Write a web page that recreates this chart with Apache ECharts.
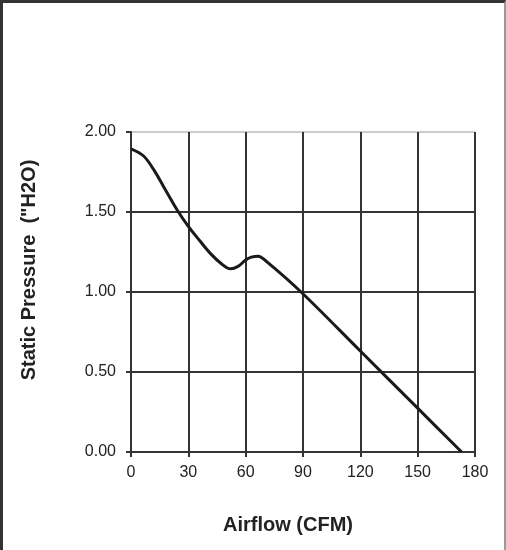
<!DOCTYPE html>
<html>
<head>
<meta charset="utf-8">
<script src="https://cdn.jsdelivr.net/npm/echarts@6/dist/echarts.min.js"></script>
<style>
  html, body { margin: 0; padding: 0; background: #fff; }
  #wrap { position: relative; width: 506px; height: 550px; }
  #main { position: absolute; left: 0; top: 0; width: 506px; height: 550px; }
  #frame {
    position: absolute; left: 0; top: 0; width: 506px; height: 550px;
    box-sizing: border-box; pointer-events: none;
    border-top: 3px solid #333; border-left: 3px solid #333; border-right: 2px solid #999;
  }
</style>
</head>
<body>
<div id="wrap">
  <div id="main"></div>
  <div id="frame"></div>
</div>
<script>
// fan curve
var airflow = [0, 6.6, 11.8, 17, 24, 30, 36, 42, 47, 52, 56, 60, 63, 66.5, 71, 89, 120, 150, 173];
var pressure = [1.895, 1.85, 1.766, 1.66, 1.516, 1.41, 1.32, 1.235, 1.18, 1.145, 1.16, 1.20, 1.218, 1.224, 1.19, 1.0, 0.631, 0.274, 0];

var xTitle = 'Airflow (CFM)';
var yTitle = 'Static Pressure  ("H2O)';

var points = airflow.map(function (x, i) { return [x, pressure[i]]; });

var gridColor = '#333';
var labelFont = { fontFamily: 'Liberation Sans, Arial, sans-serif', fontSize: 16, color: '#222' };

var option = {
    animation: false,
    grid: {
        left: 131,
        top: 132,
        width: 344,
        height: 320,
        show: true,
        borderColor: '#999',
        borderWidth: 1
    },
    xAxis: {
        type: 'value',
        min: 0,
        max: 180,
        interval: 30,
        axisLine: { show: true, lineStyle: { color: gridColor, width: 2 } },
        axisTick: { show: true, length: 5, lineStyle: { color: gridColor, width: 2 } },
        axisLabel: Object.assign({ margin: 13 }, labelFont),
        splitLine: { show: true, lineStyle: { color: gridColor, width: 2 } }
    },
    yAxis: {
        type: 'value',
        min: 0,
        max: 2,
        interval: 0.5,
        axisLine: { show: true, lineStyle: { color: gridColor, width: 2 } },
        axisTick: { show: true, length: 5, lineStyle: { color: gridColor, width: 2 } },
        axisLabel: Object.assign({
            margin: 15,
            formatter: function (v) { return v.toFixed(2); }
        }, labelFont),
        splitLine: { show: true, showMaxLine: false, lineStyle: { color: gridColor, width: 2 } }
    },
    graphic: [
        {
            type: 'text',
            x: 288,
            y: 525,
            style: {
                text: xTitle,
                align: 'center',
                verticalAlign: 'middle',
                font: 'bold 20px "Liberation Sans", Arial, sans-serif',
                fill: '#222'
            }
        },
        {
            type: 'text',
            x: 29,
            y: 270,
            rotation: Math.PI / 2,
            style: {
                text: yTitle,
                align: 'center',
                verticalAlign: 'middle',
                font: 'bold 20px "Liberation Sans", Arial, sans-serif',
                fill: '#222'
            }
        }
    ],
    series: [
        {
            type: 'line',
            data: points,
            smooth: 0.35,
            showSymbol: false,
            lineStyle: { color: '#1a1a1a', width: 3 }
        }
    ]
};

var myChart = echarts.init(document.getElementById('main'));
myChart.setOption(option);
</script>
</body>
</html>
